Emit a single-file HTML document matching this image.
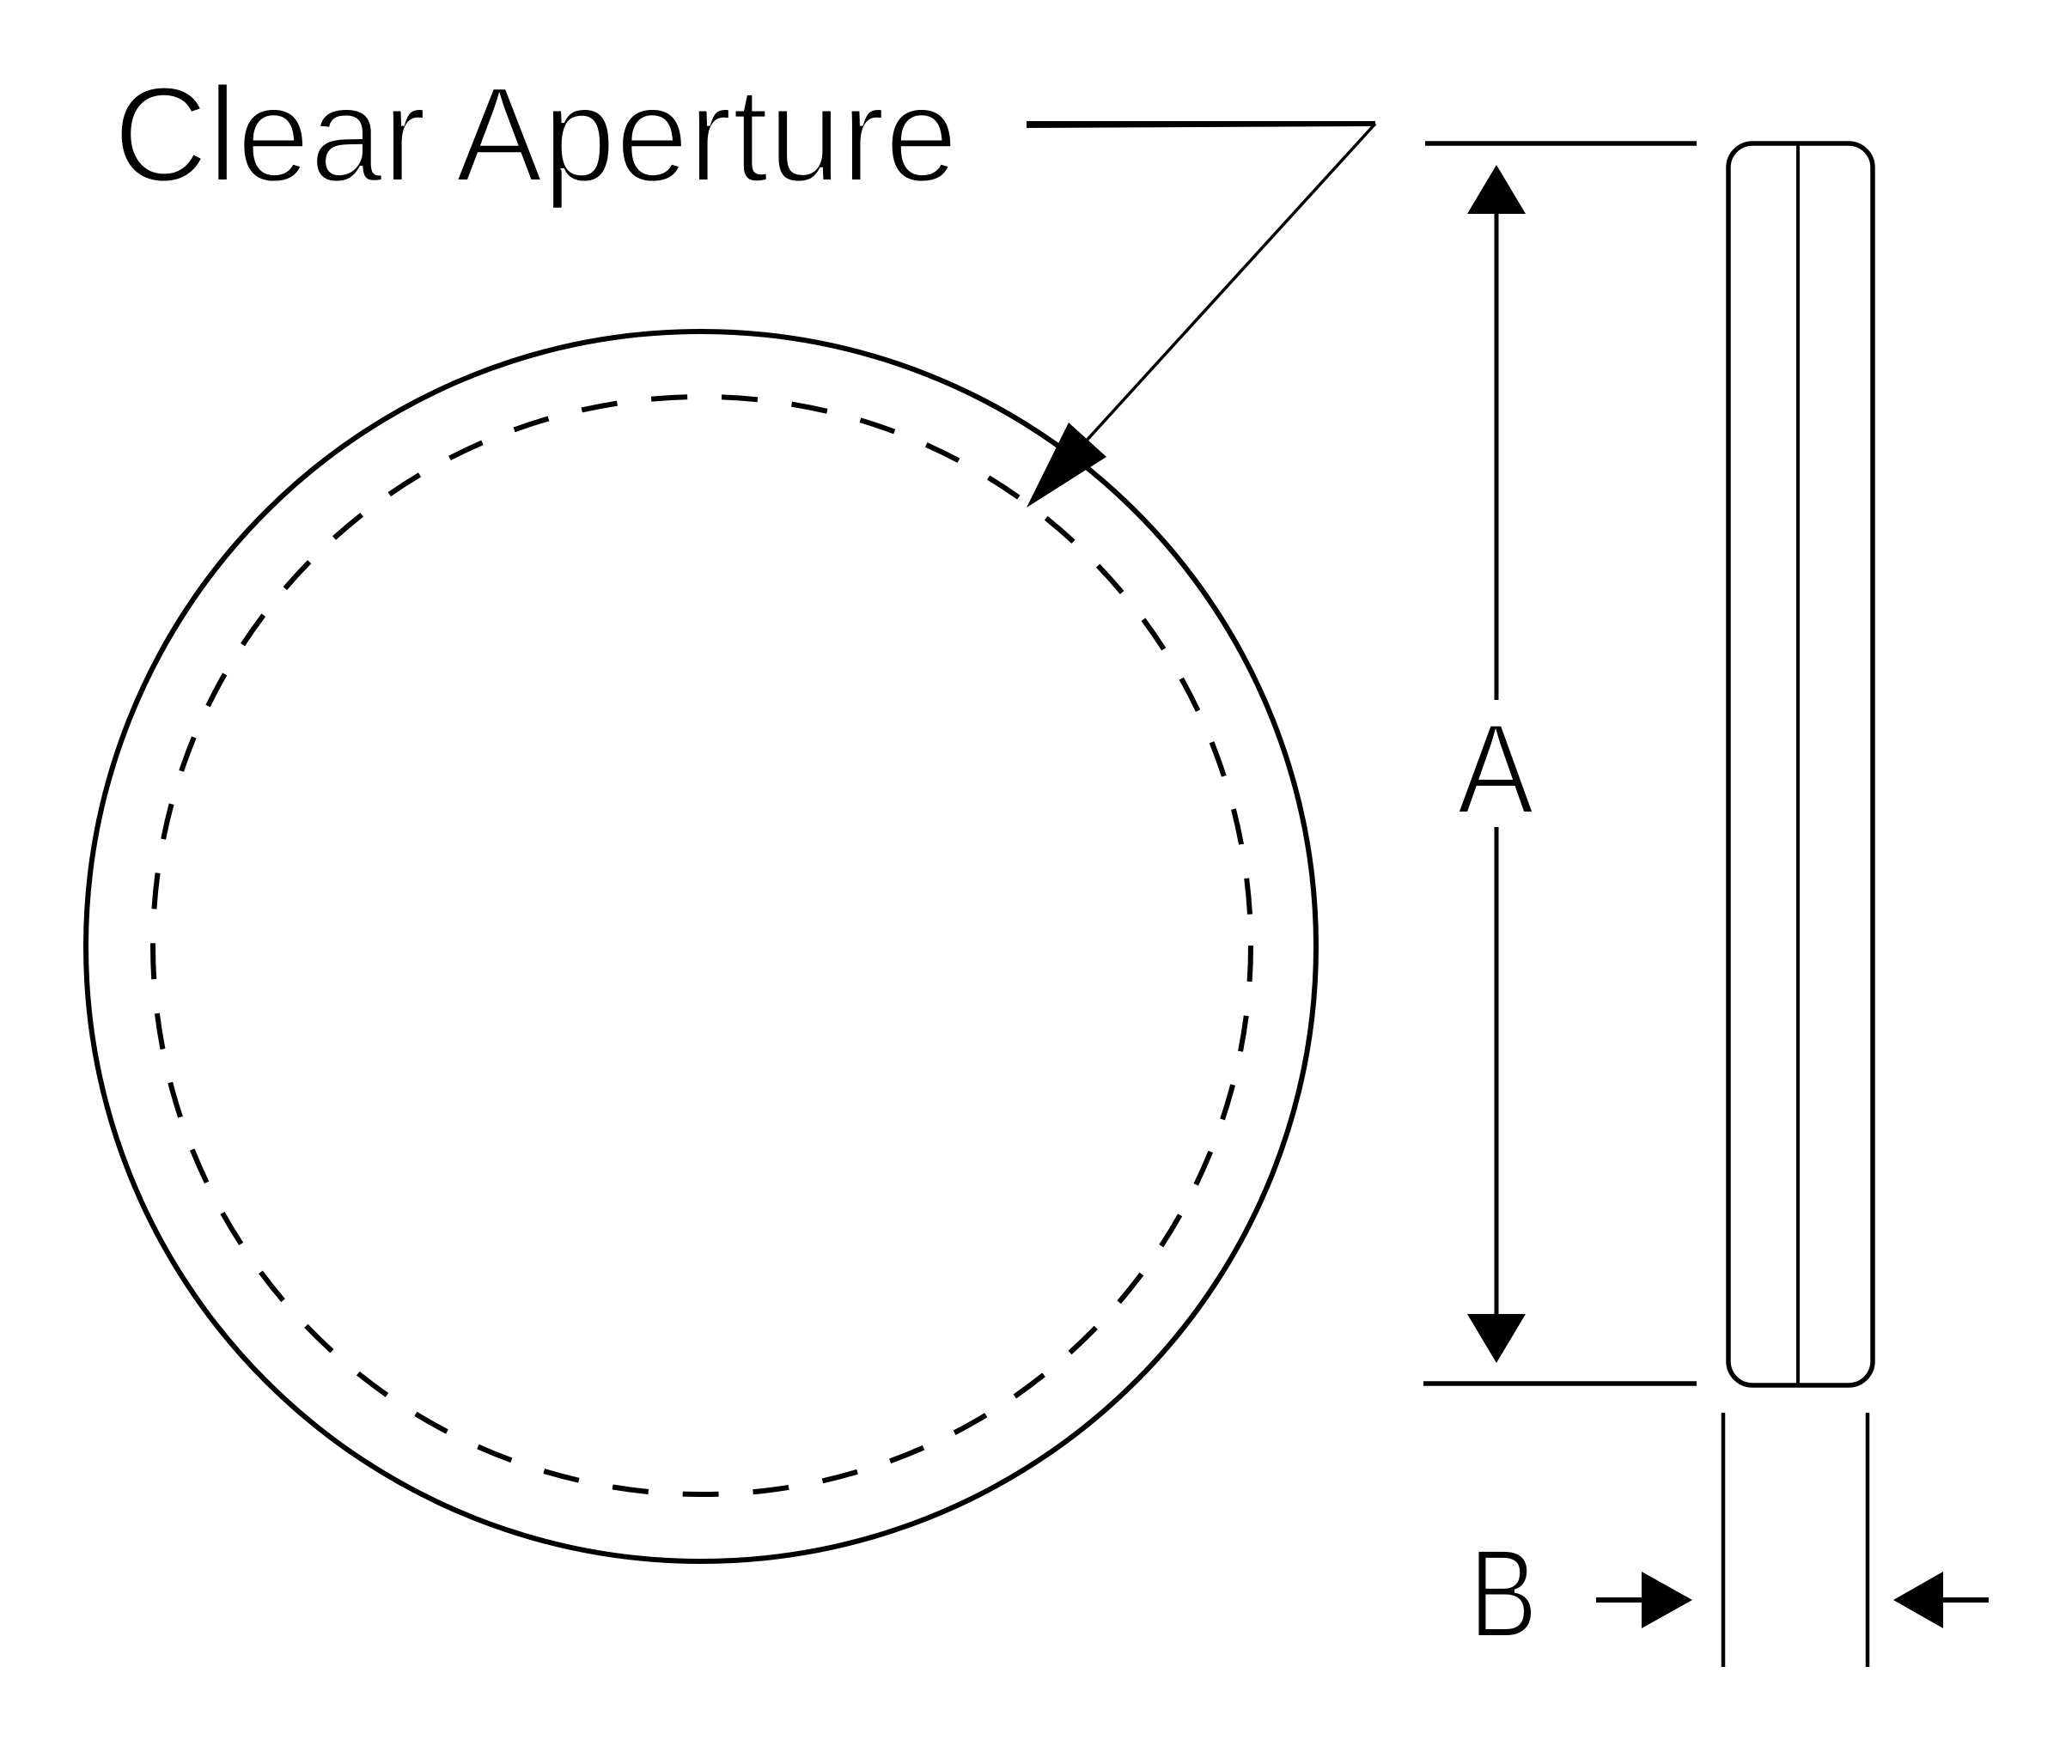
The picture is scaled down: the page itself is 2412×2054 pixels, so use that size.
<!DOCTYPE html>
<html><head><meta charset="utf-8"><style>html,body{margin:0;padding:0;background:#fff}svg{display:block}</style></head>
<body>
<svg width="2412" height="2054" viewBox="0 0 2412 2054" xmlns="http://www.w3.org/2000/svg">
<rect width="2412" height="2054" fill="#fff"/>
<g font-family="'Liberation Sans', sans-serif" fill="#000" stroke="#fff" stroke-width="4">
<text x="132" y="211" font-size="158" textLength="983" lengthAdjust="spacingAndGlyphs">Clear Aperture</text>
<text x="1741" y="947" font-size="150" text-anchor="middle" textLength="90" lengthAdjust="spacingAndGlyphs">A</text>
<text x="1710" y="1906" font-size="147" textLength="80" lengthAdjust="spacingAndGlyphs">B</text>
</g>
<g fill="none" stroke="#000">
<circle cx="816" cy="1102" r="716" stroke-width="6"/>
<circle cx="817" cy="1101" r="639" stroke-width="6" stroke-dasharray="42 40"/>
<polygon points="1195,141 1601,141 1601,147 1195,149" fill="#000" stroke="none"/>
<line x1="1601" y1="144" x2="1262" y2="516" stroke-width="3.5"/>
<line x1="1659" y1="167" x2="1975" y2="167" stroke-width="5.5"/>
<line x1="1657" y1="1611" x2="1975" y2="1611" stroke-width="5.5"/>
<line x1="1742" y1="240" x2="1742" y2="815" stroke-width="5"/>
<line x1="1742" y1="963" x2="1742" y2="1540" stroke-width="5"/>
<rect x="2012" y="167" width="168" height="1446" rx="28" stroke-width="5.5"/>
<line x1="2093" y1="167" x2="2093" y2="1613" stroke-width="4"/>
<line x1="2006" y1="1645" x2="2006" y2="1941" stroke-width="4.5"/>
<line x1="2174" y1="1645" x2="2174" y2="1941" stroke-width="4.5"/>
<line x1="1858" y1="1863" x2="1915" y2="1863" stroke-width="6"/>
<line x1="2258" y1="1863" x2="2315" y2="1863" stroke-width="6"/>
</g>
<g fill="#000">
<polygon points="1195,591 1244,492 1288,532"/>
<polygon points="1742,192 1708,249 1776,249"/>
<polygon points="1742,1587 1708,1530 1776,1530"/>
<polygon points="1970,1863 1911,1830 1911,1896"/>
<polygon points="2204,1863 2262,1830 2262,1896"/>
</g>
</svg>
</body></html>
